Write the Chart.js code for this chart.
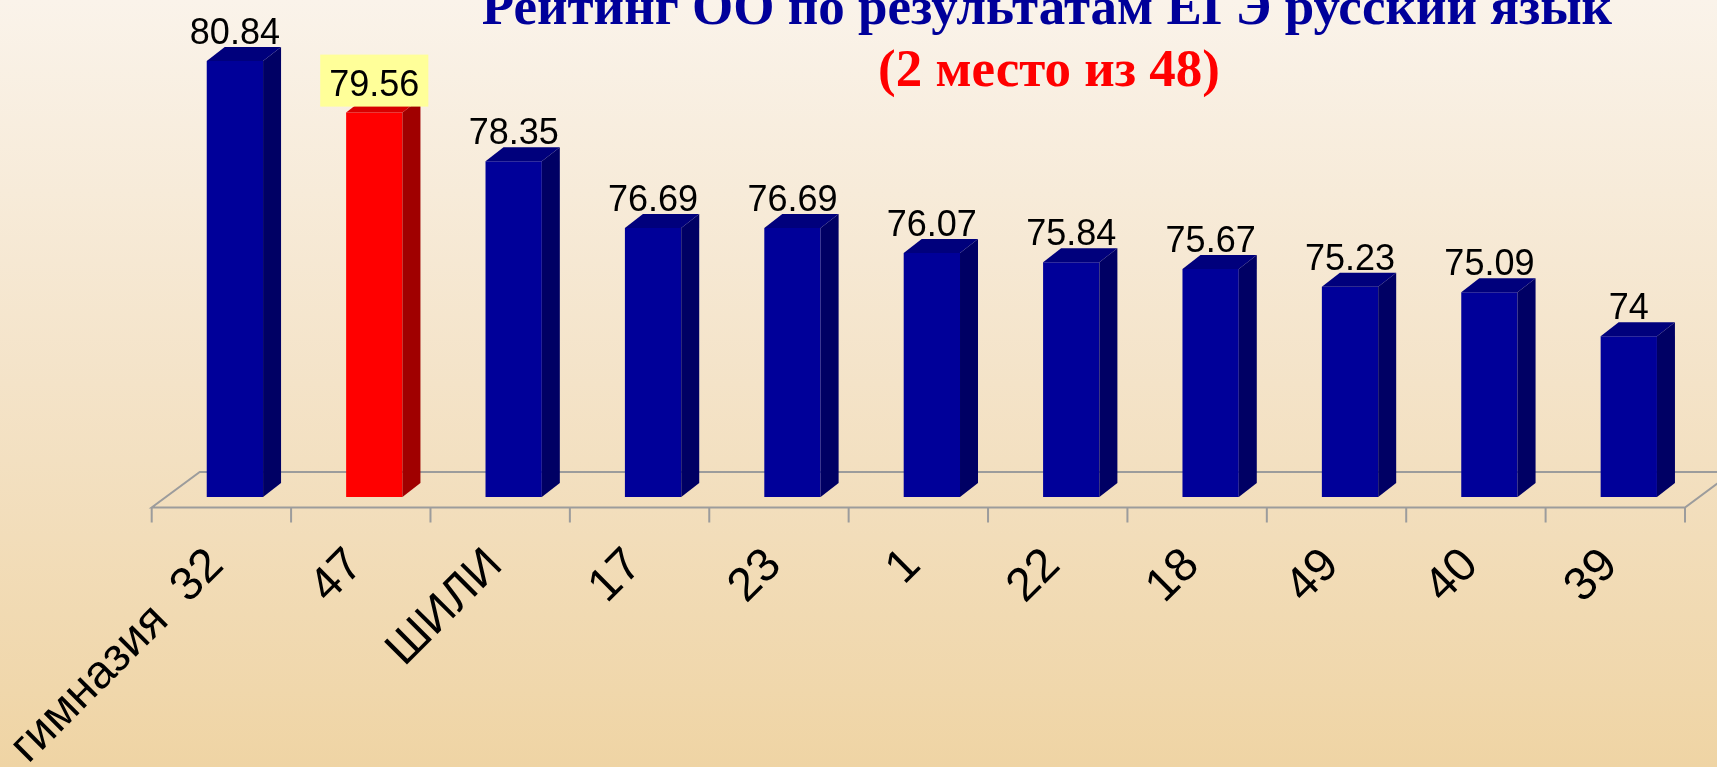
<!DOCTYPE html>
<html>
<head>
<meta charset="utf-8">
<script src="https://cdn.jsdelivr.net/npm/chart.js@4.4.1/dist/chart.umd.min.js"></script>
<style>
html, body { margin: 0; padding: 0; }
body {
    width: 1717px;
    height: 767px;
    overflow: hidden;
    background: linear-gradient(to bottom, #faf3ea 0%, #f4e3c8 50%, #efd4a4 100%);
}
</style>
</head>
<body>
<canvas id="rating-chart" width="1717" height="767"></canvas>
<script>
// schools and their average score
const schools = ['гимназия  32', '47', 'ШИЛИ', '17', '23', '1', '22', '18', '49', '40', '39'];
const scores = [80.84, 79.56, 78.35, 76.69, 76.69, 76.07, 75.84, 75.67, 75.23, 75.09, 74];
const highlightSchool = '47';

const titleLine = 'Рейтинг ОО по результатам ЕГЭ русский язык';
const placeLine = '(2 место из 48)';

const depthX = 18;   // 3d depth of the bars
const depthY = -14;
const barShift = 13.5; // bars sit right of the category centre

const colors = {
    front: '#000099', side: '#000064', top: '#00007c',
    hiFront: '#ff0000', hiSide: '#a00000', hiTop: '#d80000',
    floor: '#9c9c9c'
};

function isHi(i) {
    return schools[i] === highlightSchool;
}

// floor of the 3d chart, drawn under the bars
const floorPlugin = {
    id: 'floor',
    beforeDatasetsDraw(chart) {
        const ctx = chart.ctx;
        const area = chart.chartArea;
        const x = chart.scales.x;
        const step = (area.right - area.left) / schools.length;
        const left = area.left - barShift;
        const right = left + step * schools.length;
        const front = x.top + 10.5;
        const back = x.top - 25;
        const dx = (front - back) * 46 / 34;

        ctx.save();
        ctx.strokeStyle = colors.floor;
        ctx.lineWidth = 2;
        ctx.beginPath();
        ctx.moveTo(left, front);
        ctx.lineTo(right, front);
        ctx.lineTo(right + dx, back);
        ctx.lineTo(left + dx, back);
        ctx.closePath();
        for (let i = 0; i <= schools.length; i++) {
            const tx = left + step * i;
            ctx.moveTo(tx, front);
            ctx.lineTo(tx, front + 15);
        }
        ctx.stroke();
        ctx.restore();
    }
};

// side and top faces + value labels
const barsPlugin = {
    id: 'bars3d',
    afterDatasetsDraw(chart) {
        const ctx = chart.ctx;
        const meta = chart.getDatasetMeta(0);
        const bottom = chart.scales.y.getPixelForValue(chart.scales.y.min);
        ctx.save();
        meta.data.forEach((bar, i) => {
            const p = bar.getProps(['x', 'y', 'width'], true);
            const l = p.x - p.width / 2;
            const r = p.x + p.width / 2;

            ctx.fillStyle = isHi(i) ? colors.hiSide : colors.side;
            ctx.beginPath();
            ctx.moveTo(r, p.y);
            ctx.lineTo(r + depthX, p.y + depthY);
            ctx.lineTo(r + depthX, bottom + depthY);
            ctx.lineTo(r, bottom);
            ctx.closePath();
            ctx.fill();

            ctx.fillStyle = isHi(i) ? colors.hiTop : colors.top;
            ctx.beginPath();
            ctx.moveTo(l, p.y);
            ctx.lineTo(l + depthX, p.y + depthY);
            ctx.lineTo(r + depthX, p.y + depthY);
            ctx.lineTo(r, p.y);
            ctx.closePath();
            ctx.fill();

            const txt = String(scores[i]);
            ctx.font = '36px "Liberation Sans", Arial, sans-serif';
            ctx.textAlign = 'center';
            ctx.textBaseline = 'alphabetic';
            const baseY = p.y - 17;
            if (isHi(i)) {
                const w = ctx.measureText(txt).width;
                ctx.fillStyle = '#ffff99';
                ctx.fillRect(p.x - w / 2 - 9, baseY - 41, w + 18, 52);
            }
            ctx.fillStyle = '#000';
            ctx.fillText(txt, p.x, baseY);
        });
        ctx.restore();
    }
};

const titlePlugin = {
    id: 'slideTitle',
    afterDraw(chart) {
        const ctx = chart.ctx;
        ctx.save();
        ctx.textAlign = 'center';
        ctx.textBaseline = 'alphabetic';
        ctx.font = 'bold 53px "Liberation Serif", "Times New Roman", serif';
        ctx.fillStyle = '#00009a';
        ctx.fillText(titleLine, 1047, 24);
        ctx.fillStyle = '#ff0000';
        ctx.fillText(placeLine, 1049, 86);
        ctx.restore();
    }
};

const ctx = document.getElementById('rating-chart').getContext('2d');
const ratingChart = new Chart(ctx, {
    type: 'bar',
    data: {
        labels: schools,
        datasets: [{
            data: scores,
            backgroundColor: schools.map((s, i) => isHi(i) ? colors.hiFront : colors.front),
            borderWidth: 0,
            barPercentage: 0.404,
            categoryPercentage: 1,
        }]
    },
    options: {
        responsive: false,
        animation: false,
        devicePixelRatio: 1,
        layout: {
            padding: { left: 165.2, right: 18.5, top: 0, bottom: 0 }
        },
        plugins: {
            legend: { display: false },
            tooltip: { enabled: false },
        },
        scales: {
            y: {
                display: false,
                min: 70,
                max: 82.36,
            },
            x: {
                grid: { display: false, drawTicks: false },
                border: { display: false },
                ticks: {
                    autoSkip: false,
                    minRotation: 45,
                    maxRotation: 45,
                    padding: 41,
                    labelOffset: -18.5,
                    color: '#000',
                    font: { family: '"Liberation Sans", Arial, sans-serif', size: 47 },
                },
                afterFit(scale) {
                    scale.height = 270;
                    scale.paddingLeft = 0;
                    scale.paddingRight = 0;
                },
            },
        },
    },
    plugins: [floorPlugin, barsPlugin, titlePlugin],
});
</script>
</body>
</html>
